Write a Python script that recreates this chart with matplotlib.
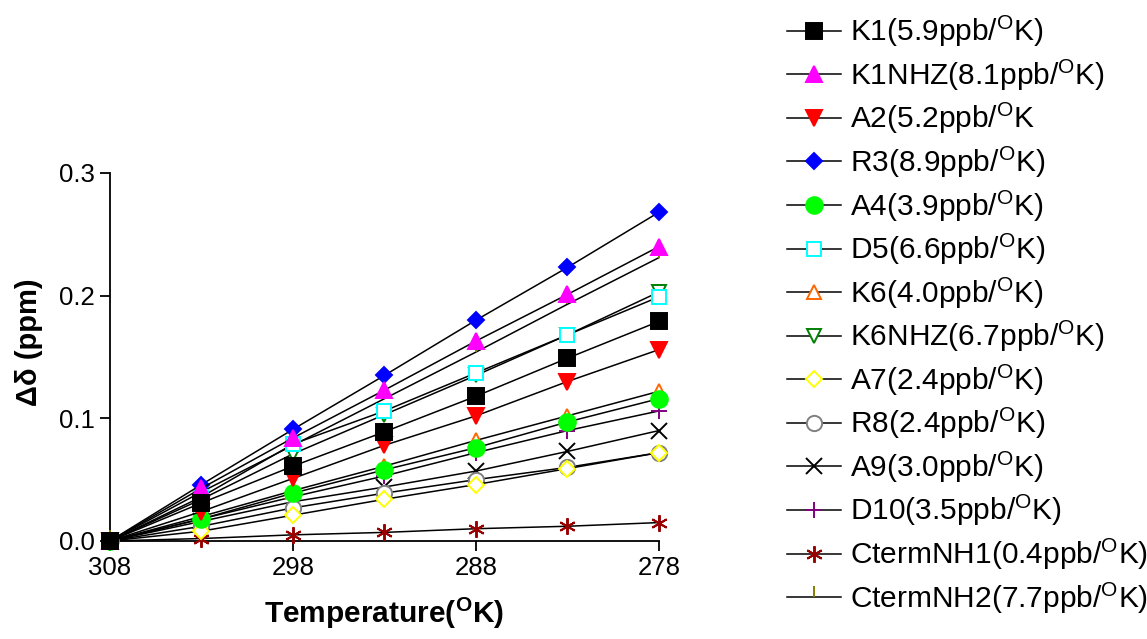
import matplotlib
matplotlib.use('Agg')
import matplotlib.pyplot as plt

plt.rcParams['font.family'] = ['Liberation Sans', 'DejaVu Sans']
plt.rcParams['mathtext.fontset'] = 'custom'
plt.rcParams['mathtext.rm'] = 'Liberation Sans'
plt.rcParams['mathtext.it'] = 'Liberation Sans:italic'
plt.rcParams['mathtext.bf'] = 'Liberation Sans:bold'

# temperature points (K), axis runs from high to low
T = [308, 303, 298, 293, 288, 283, 278]

K1 = [0, 0.031, 0.061, 0.089, 0.118, 0.149, 0.179]
K1NHZ = [0, 0.043, 0.084, 0.123, 0.163, 0.201, 0.240]
A2 = [0, 0.024, 0.051, 0.078, 0.102, 0.130, 0.156]
R3 = [0, 0.046, 0.091, 0.135, 0.180, 0.223, 0.268]
A4 = [0, 0.018, 0.039, 0.058, 0.076, 0.097, 0.116]
D5 = [0, 0.036, 0.079, 0.106, 0.137, 0.168, 0.199]
K6 = [0, 0.020, 0.041, 0.061, 0.082, 0.102, 0.122]
K6NHZ = [0, 0.034, 0.071, 0.103, 0.135, 0.168, 0.203]
A7 = [0, 0.008, 0.021, 0.034, 0.046, 0.059, 0.072]
R8 = [0, 0.012, 0.027, 0.039, 0.050, 0.060, 0.072]
A9 = [0, 0.016, 0.032, 0.044, 0.057, 0.073, 0.090]
D10 = [0, 0.018, 0.036, 0.053, 0.072, 0.090, 0.106]
CtermNH1 = [0, 0.002, 0.005, 0.007, 0.010, 0.012, 0.015]
CtermNH2 = [0, 0.040, 0.078, 0.116, 0.154, 0.193, 0.231]

labels = ['K1(5.9ppb/$^{\\rm O}$K)', 'K1NHZ(8.1ppb/$^{\\rm O}$K)', 'A2(5.2ppb/$^{\\rm O}$K',
          'R3(8.9ppb/$^{\\rm O}$K)', 'A4(3.9ppb/$^{\\rm O}$K)', 'D5(6.6ppb/$^{\\rm O}$K)',
          'K6(4.0ppb/$^{\\rm O}$K)', 'K6NHZ(6.7ppb/$^{\\rm O}$K)', 'A7(2.4ppb/$^{\\rm O}$K)',
          'R8(2.4ppb/$^{\\rm O}$K)', 'A9(3.0ppb/$^{\\rm O}$K)', 'D10(3.5ppb/$^{\\rm O}$K)',
          'CtermNH1(0.4ppb/$^{\\rm O}$K)', 'CtermNH2(7.7ppb/$^{\\rm O}$K)']
series = [K1, K1NHZ, A2, R3, A4, D5, K6, K6NHZ, A7, R8, A9, D10, CtermNH1, CtermNH2]

# marker, size, edge colour, face colour
styles = [
    ('s', 11, 'black', 'black'),
    ('^', 11, '#ff00ff', '#ff00ff'),
    ('v', 11, '#ff0000', '#ff0000'),
    ('D', 8, '#0000ff', '#0000ff'),
    ('o', 12, '#00ff00', '#00ff00'),
    ('s', 10, '#00ffff', 'white'),
    ('^', 10, '#ff6600', 'white'),
    ('v', 10, '#008000', 'white'),
    ('D', 8, '#ffff00', 'white'),
    ('o', 11, '#808080', 'white'),
    ('x', 11, 'black', 'black'),
    ('+', 12, '#800080', '#800080'),
    ((6, 2, 0), 12, '#990000', '#990000'),
    (2, 8, '#808000', '#808000'),
]

fig = plt.figure(figsize=(11.47, 6.39), dpi=100)
ax = fig.add_axes([0.0959, 0.1534, 0.4786, 0.5759])

n = len(series)
for i, (y, lab, st) in enumerate(zip(series, labels, styles)):
    m, ms, ec, fc = st
    ax.plot(T, y, color='black', lw=1.1, marker=m, markersize=ms,
            markeredgecolor=ec, markerfacecolor=fc, markeredgewidth=1.4,
            label=lab, clip_on=False, zorder=3 + (n - i) * 0.1)

ax.set_xlim(308, 278)
ax.set_ylim(0, 0.3)
ax.set_xticks([308, 298, 288, 278])
ax.set_yticks([0.0, 0.1, 0.2, 0.3])
ax.set_yticklabels(['0.0', '0.1', '0.2', '0.3'])
for s in ['top', 'right']:
    ax.spines[s].set_visible(False)
for s in ['left', 'bottom']:
    ax.spines[s].set_linewidth(1.3)
ax.tick_params(direction='out', length=7, width=1.3, labelsize=18.5, pad=4)

ax.set_xlabel('Temperature($^{\\bf O}$K)', fontsize=21.5, fontweight='bold')
ax.set_ylabel('Δδ (ppm)', fontsize=21, fontweight='bold')
ax.xaxis.set_label_coords(0.5, -0.15)
ax.yaxis.set_label_coords(-0.122, 0.54)

fig.legend(loc='upper left', bbox_to_anchor=(0.686, 0.978), frameon=False,
           fontsize=21.5, handlelength=1.83, handletextpad=0.27,
           borderpad=0, borderaxespad=0, labelspacing=0.28)

fig.savefig('out.png', dpi=100)
